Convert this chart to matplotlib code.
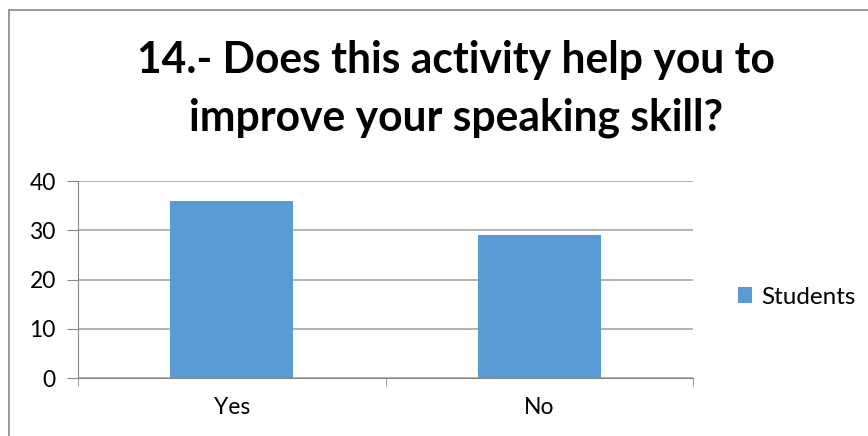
import matplotlib.pyplot as plt
from matplotlib.patches import Rectangle

# Data
categories = ["Yes", "No"]
students = [36, 29]
yticks = [0, 10, 20, 30, 40]

plt.rcParams['font.family'] = ['Lato', 'DejaVu Sans']

fig = plt.figure(figsize=(8.68, 4.36), dpi=100)
W, H = 868, 436

# outer chart border
fig.patches.append(Rectangle((9 / W, -0.1), 2, 1.1 - 10 / H, transform=fig.transFigure,
                             fill=False, edgecolor="#878787", linewidth=1.2))

ax = fig.add_axes([78 / W, 1 - 378 / H, (693 - 78) / W, (378 - 181) / H])
x = list(range(len(categories)))
bars = ax.bar(x, students, width=0.4, color="#5B9BD5", label="Students", zorder=3)

ax.set_xlim(-0.5, 1.5)
ax.set_ylim(0, 40)
ax.set_yticks(yticks)
ax.set_xticks(x)
ax.set_xticklabels(categories)
ax.set_xticks([-0.5, 0.5, 1.5], minor=True)
ax.tick_params(axis="x", which="major", length=0, pad=14, labelsize=16.5)
ax.tick_params(axis="x", which="minor", length=6, color="#878787", direction="out")
ax.tick_params(axis="y", length=8, color="#878787", pad=8, labelsize=16.5)

ax.grid(axis="y", color="#A6A6A6", linewidth=1.2, zorder=0)
for s in ["top", "right"]:
    ax.spines[s].set_visible(False)
for s in ["left", "bottom"]:
    ax.spines[s].set_color("#878787")

fig.text(456 / W, 1 - 60 / H, "14.- Does this activity help you to", ha="center", va="center",
         fontsize=30.7, fontweight="bold")
fig.text(456 / W, 1 - 118 / H, "improve your speaking skill?", ha="center", va="center",
         fontsize=30.7, fontweight="bold")

fig.legend(loc="center left", bbox_to_anchor=(716 / W, 1 - 297 / H), frameon=False,
           fontsize=17.5, handlelength=0.6, handleheight=0.6, handletextpad=0.35)

fig.savefig("out.png", dpi=100)
